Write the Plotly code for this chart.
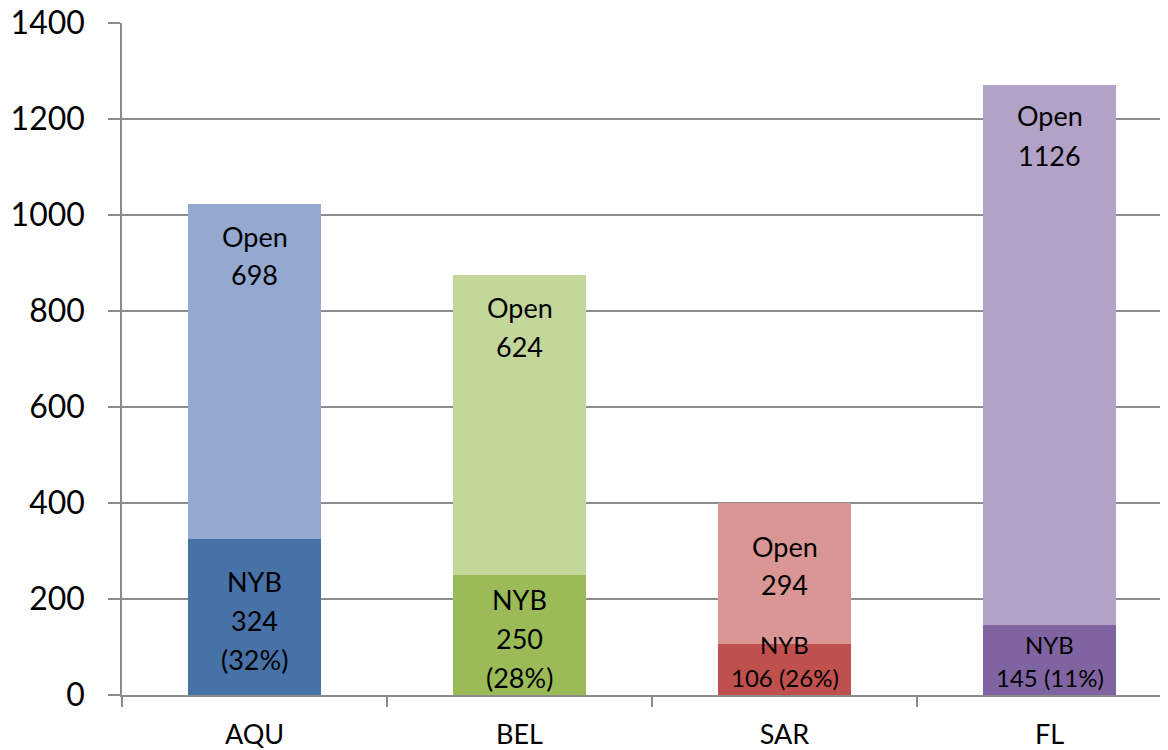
import plotly.graph_objects as go

categories = ["AQU", "BEL", "SAR", "FL"]
nyb_values = [324, 250, 106, 145]
open_values = [698, 624, 294, 1126]
nyb_pct = [32, 28, 26, 11]
y_ticks = [0, 200, 400, 600, 800, 1000, 1200, 1400]

nyb_colors = ["#4672A8", "#9BBB59", "#C0504D", "#8064A2"]
open_colors = ["#95A9D0", "#C4D79B", "#DA9694", "#B3A2C7"]

FONT = "Lato"
GRID = "#8C8C8C"

fig = go.Figure()
fig.add_trace(go.Bar(x=categories, y=nyb_values, marker=dict(color=nyb_colors, line=dict(width=0)),
                     width=0.5, name="NYB", hoverinfo="x+y"))
fig.add_trace(go.Bar(x=categories, y=open_values, marker=dict(color=open_colors, line=dict(width=0)),
                     width=0.5, name="Open", hoverinfo="x+y"))

annotations = []
# style: pixel offsets of label lines
open_offsets = [(-32, -70), (-32, -71), (-43, -81), (-31, -71)]
big_nyb = [True, True, False, False]
for i, cat in enumerate(categories):
    total = nyb_values[i] + open_values[i]
    for txt, off in zip(["Open", str(open_values[i])], open_offsets[i]):
        annotations.append(dict(x=cat, y=total, yshift=off, text=txt, showarrow=False,
                                yanchor="middle", xanchor="center",
                                font=dict(family=FONT, size=27, color="black")))
    if big_nyb[i]:
        lines = ["NYB", str(nyb_values[i]), f"({nyb_pct[i]}%)"]
        for j, txt in enumerate(lines):
            annotations.append(dict(x=cat, y=nyb_values[i] / 2, yshift=-3 + (1 - j) * 39, text=txt,
                                    showarrow=False, yanchor="middle", xanchor="center",
                                    font=dict(family=FONT, size=27, color="black")))
    else:
        lines = ["NYB", f"{nyb_values[i]} ({nyb_pct[i]}%)"]
        for j, txt in enumerate(lines):
            annotations.append(dict(x=cat, y=0, yshift=51 - j * 33, text=txt,
                                    showarrow=False, yanchor="middle", xanchor="center",
                                    font=dict(family=FONT, size=24, color="black")))

# page body has an 8px margin; size the figure so the plot lands where the reference has it
fig.update_layout(
    barmode="stack",
    width=1160, height=742,
    margin=dict(l=114, r=0, t=15, b=55, autoexpand=False),
    plot_bgcolor="white", paper_bgcolor="white",
    showlegend=False,
    annotations=annotations,
    xaxis=dict(range=[-0.5, 3.447], showline=True, linecolor=GRID, linewidth=1.5,
               ticks="outside", ticklen=10, tickcolor=GRID, tickwidth=1.5, tickson="boundaries",
               ticklabelstandoff=15, ticklabeloverflow="allow", automargin=False,
               tickfont=dict(family=FONT, size=27, color="black"), showgrid=False),
    yaxis=dict(range=[0, 1400], tickvals=y_ticks, showgrid=True, gridcolor=GRID, gridwidth=1.5,
               showline=True, linecolor=GRID, linewidth=1.5, zeroline=False,
               ticks="outside", ticklen=12, tickcolor=GRID, tickwidth=1.5,
               ticklabelstandoff=17, ticklabeloverflow="allow", automargin=False,
               tickfont=dict(family=FONT, size=32, color="black")),
)

fig.write_html("out.html")
